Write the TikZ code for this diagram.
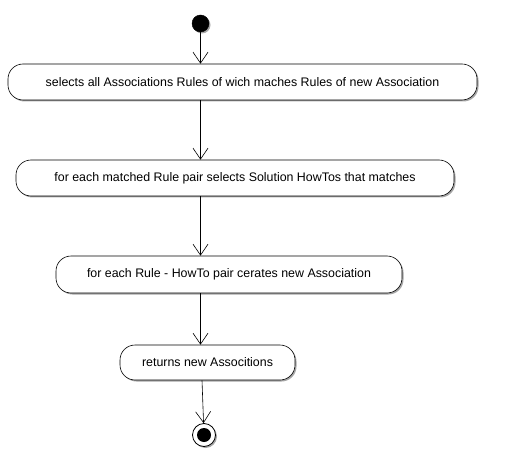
\documentclass[tikz,border=0pt]{standalone}
\usepackage{fontspec}
\setmainfont{Liberation Sans}
\usetikzlibrary{positioning, shadows, arrows.meta}

\begin{document}
\begin{tikzpicture}[
        x=1pt, y=-1pt,
        every node/.style={font=\fontsize{12.4}{14}\selectfont},
        shade/.style={drop shadow={shadow xshift=1.5pt, shadow yshift=-1.5pt, fill=black!35, opacity=1}},
        box/.style={draw, rectangle, rounded corners=15pt, fill=white, shade, line width=0.6pt, align=center, inner sep=0pt},
        flow/.style={line width=0.6pt, -{Straight Barb[length=11pt, width=15pt, line width=0.6pt]}}
    ]
    \useasboundingbox (0,0) rectangle (505,470);

    \node[circle, fill=black, draw, minimum size=17pt, inner sep=0pt, shade] (start) at (200.5,23.5) {};

    \node[box, minimum width=469pt, minimum height=36pt] (select) at (242.5,82) {selects all Associations Rules of wich maches Rules of new Association};
    \node[box, minimum width=438pt, minimum height=36pt] (match) at (235,178) {for each matched Rule pair selects Solution HowTos that matches};
    \node[box, minimum width=346pt, minimum height=37pt] (create) at (229,274.5) {for each Rule - HowTo pair cerates new Association};
    \node[box, minimum width=175pt, minimum height=35pt] (return) at (207.5,362.5) {returns new Associtions};

    \node[circle, draw, fill=white, line width=0.8pt, minimum size=23pt, inner sep=0pt, shade] (end) at (204,435) {};
    \node[circle, fill=black, minimum size=14pt, inner sep=0pt] (endcore) at (end) {};

    \draw[flow] (start) -- (start |- select.north);
    \draw[flow] (select.south -| start) -- (match.north -| start);
    \draw[flow] (match.south -| start) -- (create.north -| start);
    \draw[flow] (create.south -| start) -- (return.north -| start);
    \draw[flow] ([xshift=-2pt]end |- return.south) -- (end);

\end{tikzpicture}
\end{document}
